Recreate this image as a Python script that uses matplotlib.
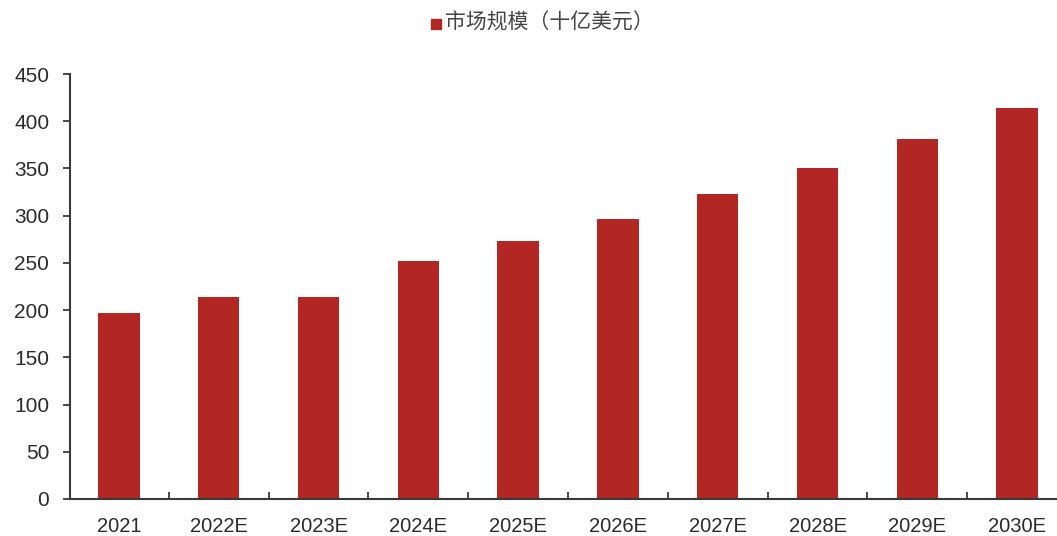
import matplotlib
matplotlib.use('Agg')
import matplotlib.pyplot as plt
from matplotlib.patches import Rectangle
import numpy as np

# ====== DATOS ======
years = ['2021', '2022E', '2023E', '2024E', '2025E',
         '2026E', '2027E', '2028E', '2029E', '2030E']
market_size = [196.5, 213.5, 213.5, 252, 273.5, 297, 322.5, 350.5, 381, 413.5]
y_ticks = [0, 50, 100, 150, 200, 250, 300, 350, 400, 450]
legend_label = '市场规模（十亿美元）'

bar_color = '#B22624'
axis_color = '#3a3a3a'
text_color = '#2b2b2b'

plt.rcParams['font.family'] = ['Liberation Sans', 'DejaVu Sans']

fig = plt.figure(figsize=(10.57, 5.36), dpi=100)
W, H = 1057, 536
# eje en píxeles: izquierda 70, ancho 10 categorías de ~99.8 px
ax = fig.add_axes([70 / W, 37 / H, 998 / W, 425 / H])

x = np.arange(len(years))
ax.bar(x, market_size, width=0.415, color=bar_color, zorder=2)

ax.set_xlim(-0.49, len(years) - 0.49)
ax.set_ylim(0, 450)
ax.set_yticks(y_ticks)
ax.set_xticks(x)
ax.set_xticklabels(years)
ax.set_xticks(x[:-1] + 0.5, minor=True)

for side in ['top', 'right']:
    ax.spines[side].set_visible(False)
for side in ['left', 'bottom']:
    ax.spines[side].set_color(axis_color)
    ax.spines[side].set_linewidth(1.5)

ax.tick_params(axis='y', direction='out', length=5, width=1.3,
               color=axis_color, labelsize=15, labelcolor=text_color, pad=10)
ax.tick_params(axis='x', which='major', length=0, labelsize=14.5,
               labelcolor=text_color, pad=13)
ax.tick_params(axis='x', which='minor', direction='in', length=5,
               width=1.3, color=axis_color)

# leyenda: cuadrado + texto centrado arriba
fig.patches.append(Rectangle((431 / W, 1 - 29 / H), 10 / W, 10 / H,
                             transform=fig.transFigure, color=bar_color))
fig.text(445 / W, 1 - 23 / H, legend_label, fontsize=15, color='#444444',
         va='center', ha='left',
         family=['Noto Sans CJK SC', 'DejaVu Sans'])

fig.savefig('out.png', dpi=100)
